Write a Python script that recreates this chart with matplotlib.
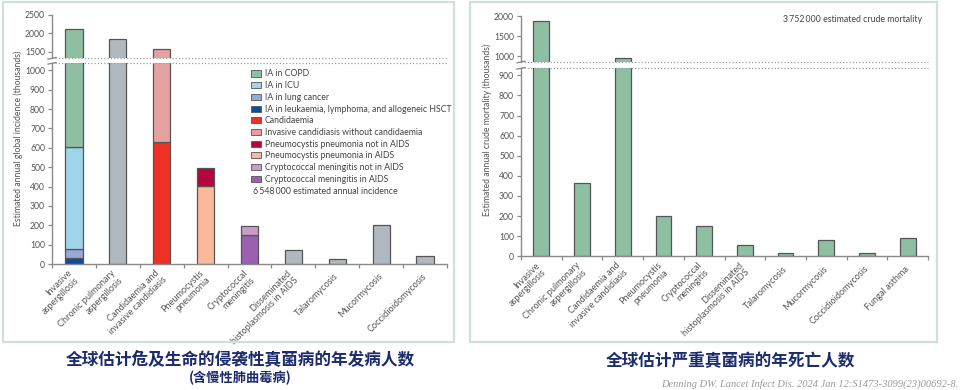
import numpy as np
import matplotlib
matplotlib.use('Agg')
import matplotlib.pyplot as plt
from matplotlib.patches import Patch, Rectangle
from matplotlib.lines import Line2D

# canvas in pixels
W, H = 960, 390

# ---- data: incidence (thousands) ----
inc_cats = ["Invasive\naspergillosis", "Chronic pulmonary\naspergillosis",
            "Candidaemia and\ninvasive candidiasis", "Pneumocystis\npneumonia",
            "Cryptococcal\nmeningitis", "Disseminated\nhistoplasmosis in AIDS",
            "Talaromycosis", "Mucormycosis", "Coccidioidomycosis"]

# stacked pieces (bottom to top) for the first bar
ia_parts = [31, 49, 523, 1504]
ia_names = ["IA in leukaemia, lymphoma, and allogeneic HSCT", "IA in lung cancer",
            "IA in ICU", "IA in COPD"]
ia_colors = ["#0b4f9c", "#9aa8d8", "#9fd5e9", "#8fc0a3"]

cand_parts = [632, 938]
cand_names = ["Candidaemia", "Invasive candidiasis without candidaemia"]
cand_colors = ["#ee3124", "#e5a1a0"]

pcp_parts = [405, 90]
pcp_names = ["Pneumocystis pneumonia in AIDS", "Pneumocystis pneumonia not in AIDS"]
pcp_colors = ["#f9b99b", "#b3063c"]

crypto_parts = [152, 46]
crypto_names = ["Cryptococcal meningitis in AIDS", "Cryptococcal meningitis not in AIDS"]
crypto_colors = ["#9a60b1", "#cc9cc8"]

# single gray bars: index -> value
gray_idx = [1, 5, 6, 7, 8]
gray_vals = [1852, 74, 26, 202, 42]
gray_color = "#b1b9c0"

# ---- data: mortality (thousands) ----
mort_cats = ["Invasive\naspergillosis", "Chronic pulmonary\naspergillosis",
             "Candidaemia and\ninvasive candidiasis", "Pneumocystis\npneumonia",
             "Cryptococcal\nmeningitis", "Disseminated\nhistoplasmosis in AIDS",
             "Talaromycosis", "Mucormycosis", "Coccidioidomycosis", "Fungal asthma"]
mort_vals = [1880, 365, 960, 202, 150, 57, 15, 82, 15, 92]
mort_color = "#8fbfa3"

legend_order = ["IA in COPD", "IA in ICU", "IA in lung cancer",
                "IA in leukaemia, lymphoma, and allogeneic HSCT", "Candidaemia",
                "Invasive candidiasis without candidaemia",
                "Pneumocystis pneumonia not in AIDS", "Pneumocystis pneumonia in AIDS",
                "Cryptococcal meningitis not in AIDS", "Cryptococcal meningitis in AIDS"]

FONT = ['Lato', 'DejaVu Sans']
CJK = ['Noto Sans CJK SC', 'DejaVu Sans']
plt.rcParams['font.family'] = FONT
TXT = "#555555"
SPINE = "#8a8a8a"
EDGE = "#555555"
BW = 0.39

fig = plt.figure(figsize=(W / 100, H / 100), dpi=100)


def fx(x):
    return x / W


def fy(y):
    return 1 - y / H


def px_axes(x0, y0, x1, y1):
    return fig.add_axes([fx(x0), fy(y1), (x1 - x0) / W, (y1 - y0) / H])


def style(ax):
    for s in ['top', 'right']:
        ax.spines[s].set_visible(False)
    for s in ['left', 'bottom']:
        ax.spines[s].set_color(SPINE)
        ax.spines[s].set_linewidth(1.0)
    ax.tick_params(axis='y', colors=SPINE, labelcolor=TXT, labelsize=6.2, length=3, width=0.9, pad=2)


def broken_panel(x0, x1, y_top, y_hi, y_lo, y_bot, lo_lim, hi_lim, lo_ticks, hi_ticks, cats):
    ax_hi = px_axes(x0, y_top, x1, y_hi)
    ax_lo = px_axes(x0, y_lo, x1, y_bot)
    for ax in (ax_hi, ax_lo):
        style(ax)
        ax.set_xlim(-0.5, len(cats) - 0.5)
    ax_hi.set_ylim(*hi_lim)
    ax_lo.set_ylim(*lo_lim)
    ax_hi.set_yticks(hi_ticks)
    ax_lo.set_yticks(lo_ticks)
    ax_hi.spines['bottom'].set_visible(False)
    ax_hi.set_xticks([])
    # category labels at centres, ticks at boundaries
    ax_lo.set_xticks(np.arange(len(cats)))
    ax_lo.set_xticklabels(cats, rotation=45, ha='right', va='center',
                          rotation_mode='anchor', fontsize=6.6, color=TXT,
                          multialignment='right', linespacing=1.1)
    ax_lo.tick_params(axis='x', which='major', length=0, pad=8)
    ax_lo.set_xticks(np.arange(len(cats) + 1) - 0.5, minor=True)
    ax_lo.tick_params(axis='x', which='minor', length=3, width=0.9, colors=SPINE)
    # dotted break lines and spine marks
    for y in (y_hi, y_lo):
        fig.add_artist(Line2D([fx(x0 + 3), fx(x1)], [fy(y), fy(y)], color="#9aa0a0",
                              lw=0.9, linestyle=(0, (1, 1.6))))
        fig.add_artist(Line2D([fx(x0 - 4), fx(x0 + 4)], [fy(y + 0.8), fy(y - 0.8)],
                              color=SPINE, lw=1.0))
    return ax_hi, ax_lo


def stack(axes, x, parts, colors, names=None):
    bottom = 0
    for i, (v, c) in enumerate(zip(parts, colors)):
        for ax in axes:
            ax.bar(x, v, BW, bottom=bottom, color=c, edgecolor=EDGE, linewidth=0.9,
                   label=names[i] if (names and ax is axes[1]) else None)
        bottom += v


# ---- left panel: incidence ----
axi_hi, axi_lo = broken_panel(52, 447, 14.7, 58.3, 63.3, 264,
                              (0, 1036), (1324, 2500),
                              np.arange(0, 1001, 100), [1500, 2000, 2500], inc_cats)
stack((axi_hi, axi_lo), 0, ia_parts, ia_colors, ia_names)
stack((axi_hi, axi_lo), 2, cand_parts, cand_colors, cand_names)
stack((axi_hi, axi_lo), 3, pcp_parts, pcp_colors, pcp_names)
stack((axi_hi, axi_lo), 4, crypto_parts, crypto_colors, crypto_names)
for ax in (axi_hi, axi_lo):
    ax.bar(gray_idx, gray_vals, BW, color=gray_color, edgecolor=EDGE, linewidth=0.9)

handles, labels = axi_lo.get_legend_handles_labels()
lookup = dict(zip(labels, handles))
leg_h = [Patch(facecolor=lookup[n].patches[0].get_facecolor(), edgecolor=EDGE, linewidth=0.6)
         for n in legend_order]
axi_lo.legend(leg_h, legend_order, loc='upper left',
              bbox_to_anchor=(fx(251), fy(69.5)), bbox_transform=fig.transFigure,
              frameon=False, fontsize=6.3, handlelength=1.15, handleheight=0.7,
              handletextpad=0.4, labelspacing=0.31, borderpad=0, borderaxespad=0,
              labelcolor="#444444")
fig.text(fx(253), fy(191.5), "6\u2009548\u2009000 estimated annual incidence",
         fontsize=6.3, color="#444444", va='center', ha='left', family=FONT)

fig.text(fx(18), fy(138), "Estimated annual global incidence (thousands)", rotation=90,
         fontsize=6.2, color=TXT, ha='center', va='center')

# ---- right panel: mortality ----
axm_hi, axm_lo = broken_panel(521, 928, 16.3, 62, 68.3, 256.3,
                              (0, 935), (849, 2000),
                              np.arange(0, 901, 100), [1000, 1500, 2000], mort_cats)
for ax in (axm_hi, axm_lo):
    ax.bar(np.arange(len(mort_vals)), mort_vals, BW, color=mort_color,
           edgecolor=EDGE, linewidth=0.9)
fig.text(fx(922), fy(20), "3\u2009752\u2009000 estimated crude mortality",
         fontsize=6.3, color="#444444", ha='right', va='center')
fig.text(fx(487), fy(130), "Estimated annual crude mortality (thousands)", rotation=90,
         fontsize=6.2, color=TXT, ha='center', va='center')

# ---- panel frames ----
for (a, b, c, d) in [(3, 2, 454, 342), (470, 2, 937, 342)]:
    fig.add_artist(Rectangle((fx(a), fy(d)), (c - a) / W, (d - b) / H, fill=False,
                             edgecolor="#cde2da", lw=1.6, transform=fig.transFigure))

# ---- chinese titles and citation ----
NAVY = "#1c2b6e"
fig.text(fx(240), fy(360), "全球估计危及生命的侵袭性真菌病的年发病人数", family=CJK,
         fontsize=12, fontweight='bold', color=NAVY, ha='center', va='center')
fig.text(fx(240), fy(377.5), "(含慢性肺曲霉病)", family=CJK,
         fontsize=9.5, fontweight='bold', color=NAVY, ha='center', va='center')
fig.text(fx(730), fy(361), "全球估计严重真菌病的年死亡人数", family=CJK,
         fontsize=12, fontweight='bold', color=NAVY, ha='center', va='center')
fig.text(fx(958), fy(384), "Denning DW. Lancet Infect Dis. 2024 Jan 12:S1473-3099(23)00692-8.",
         family=['Liberation Serif', 'DejaVu Serif'], style='italic', fontsize=7.5,
         color="#9a9a9a", ha='right', va='center')

fig.savefig("out.png", dpi=100, facecolor='white')
